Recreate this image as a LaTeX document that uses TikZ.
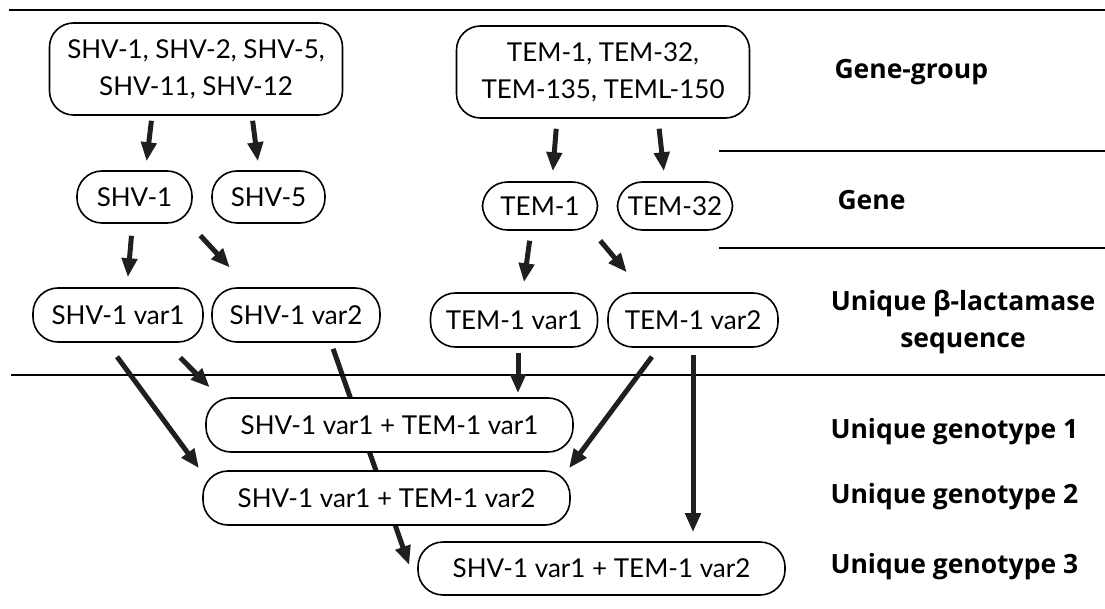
\documentclass[tikz,border=0pt]{standalone}
\usepackage{fontspec}
\setmainfont{Lato}
\newfontfamily\lvlfont{Open Sans}
\usetikzlibrary{arrows.meta,backgrounds}

\begin{document}
\begin{tikzpicture}[x=1pt,y=-1pt,
  grp/.style={draw,line width=1.6pt,rounded corners=24pt,fill=white,
    minimum width=293pt,minimum height=92pt,align=center,inner sep=0pt,
    font=\fontsize{26}{37}\selectfont},
  pill/.style={draw,line width=1.6pt,rounded corners=25pt,fill=white,
    minimum height=52pt,inner sep=0pt,font=\fontsize{26}{30}\selectfont},
  lvl/.style={font=\lvlfont\bfseries\fontsize{26.5}{36}\selectfont,anchor=west},
  arr/.style={-{Triangle[length=19pt,width=15pt]},line width=5pt,draw=black!88},
  sep/.style={line width=1.3pt}]
  \useasboundingbox (0,0) rectangle (1105,609);

  % level separators
  \draw[sep] (9,10) -- (1105,10);
  \draw[sep] (719,151) -- (1105,151);
  \draw[sep] (719,248) -- (1105,248);
  \draw[sep] (11,375) -- (1105,375);

  % gene groups
  \node[grp] (g1) at (196,69) {SHV-1, SHV-2, SHV-5,\\SHV-11, SHV-12};
  \node[grp] (g2) at (603,72) {TEM-1, TEM-32,\\TEM-135, TEML-150};

  % genes
  \node[pill,minimum width=115pt] (shv1) at (134.5,197) {SHV-1};
  \node[pill,minimum width=113pt] (shv5) at (268.5,197) {SHV-5};
  \node[pill,minimum width=115pt,minimum height=48pt] (tem1) at (540,206) {TEM-1};
  \node[pill,minimum width=115pt,minimum height=48pt] (tem32) at (675,206) {TEM-32};

  % unique sequences
  \node[pill,minimum width=170pt,minimum height=54pt] (shvA) at (118,315) {SHV-1 var1};
  \node[pill,minimum width=168pt,minimum height=54pt] (shvB) at (296,315) {SHV-1 var2};
  \node[pill,minimum width=167pt,minimum height=54pt] (temA) at (514,320) {TEM-1 var1};
  \node[pill,minimum width=170pt,minimum height=54pt] (temB) at (693,320) {TEM-1 var2};

  % genotypes
  \node[pill,minimum width=367pt,minimum height=54pt] (geno1) at (389.5,425) {SHV-1 var1 + TEM-1 var1};
  \node[pill,minimum width=367pt,minimum height=54pt] (geno2) at (386.5,498) {SHV-1 var1 + TEM-1 var2};
  \node[pill,minimum width=367pt,minimum height=53pt] (geno3) at (601.5,568.5) {SHV-1 var1 + TEM-1 var2};

  % level names
  \node[lvl] (lgroup) at (831,72) {Gene-group};
  \node[lvl] (lgene) at (834,200) {Gene};
  \node[font=\lvlfont\bfseries\fontsize{26.5}{37}\selectfont,align=center] (lseq) at (963,322) {Unique β-lactamase\\sequence};
  \node[lvl] (lgeno1) at (827,432) {Unique genotype 1};
  \node[lvl] (lgeno2) at (827,497) {Unique genotype 2};
  \node[lvl] (lgeno3) at (827,567) {Unique genotype 3};

  % arrows
  \draw[arr,shorten <=5pt,shorten >=9pt] ([xshift=-44pt]g1.south) -- ([xshift=11pt]shv1.north);
  \draw[arr,shorten <=5pt,shorten >=9pt] ([xshift=56pt]g1.south) -- ([xshift=-9.5pt]shv5.north);
  \draw[arr,shorten <=10pt,shorten >=10pt] ([xshift=-46pt]g2.south) -- ([xshift=12pt]tem1.north);
  \draw[arr,shorten <=10pt,shorten >=10pt] ([xshift=55pt]g2.south) -- ([xshift=-10pt]tem32.north);

  \draw[arr,shorten <=12pt,shorten >=10pt] ([xshift=-2pt]shv1.south) -- ([xshift=9pt]shvA.north);
  \draw[arr,shorten <=16pt,shorten >=26.7pt] ([xshift=55pt]shv1.south) -- ([xshift=-48pt]shvB.north);
  \draw[arr,shorten <=10pt,shorten >=10pt] ([xshift=-9pt]tem1.south) -- ([xshift=8.6pt]temA.north);
  \draw[arr,shorten <=12.9pt,shorten >=25.9pt] ([xshift=52pt]tem1.south) -- ([xshift=-49.6pt]temB.north);

  \draw[arr,shorten <=20.9pt,shorten >=13.9pt] ([xshift=47.5pt]shvA.south) -- ([xshift=-170pt]geno1.north);
  \draw[arr,shorten <=17.3pt,shorten >=2.5pt] ([xshift=-11.2pt]shvA.south) -- ([xshift=-186pt]geno2.north);
  \begin{pgfonlayer}{background}
    \draw[arr,shorten <=6.4pt] ([xshift=35pt]shvB.south) -- ([xshift=-8pt,yshift=3.5pt]geno3.west);
  \end{pgfonlayer}
  \draw[arr,shorten <=5pt,shorten >=4pt] ([xshift=4pt]temA.south) -- ([xshift=128.5pt]geno1.north);
  \draw[arr,shorten <=11.2pt,shorten >=2.5pt] ([xshift=-34.4pt]temB.south) -- ([xshift=181pt]geno2.north);
  \draw[arr,shorten <=7pt,shorten >=9pt] (temB.south) -- ([xshift=91.5pt]geno3.north);
\end{tikzpicture}
\end{document}
